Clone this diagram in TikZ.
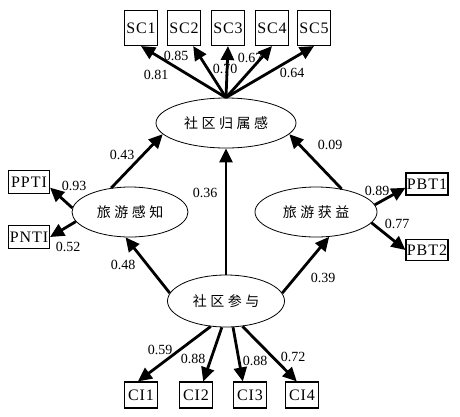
\documentclass[tikz,border=0pt]{standalone}
\usepackage{fontspec}
\setmainfont{Liberation Serif}
\newfontfamily\cjk[LetterSpace=25]{Noto Sans CJK SC}
\newfontfamily\boxfont[LetterSpace=6]{Liberation Serif}
\usetikzlibrary{arrows.meta,shapes.geometric}

\begin{document}
\begin{tikzpicture}[x=1pt,y=-1pt,
    latent/.style={ellipse,draw,line width=0.8pt,inner sep=0pt,
        font=\cjk\fontsize{14}{14}\selectfont},
    obs/.style={rectangle,draw,line width=1.1pt,inner sep=0pt,
        font=\boxfont\fontsize{16}{16}\selectfont},
    path/.style={line width=2.8pt,-{Triangle[length=14pt,width=13pt]}},
    coef/.style={inner sep=0pt,font=\fontsize{14}{14}\selectfont}]
    \useasboundingbox (0,0) rectangle (460,416);
    % latent variables
    \node[latent,minimum width=140pt,minimum height=50pt] (sg) at (226,123) {社区归属感};
    \node[latent,minimum width=116pt,minimum height=50pt] (tp) at (130,212) {旅游感知};
    \node[latent,minimum width=122pt,minimum height=50pt] (tb) at (316,212) {旅游获益};
    \node[latent,minimum width=117pt,minimum height=52pt] (sp) at (226,301) {社区参与};
    % observed indicators
    \foreach \i/\x in {1/141,2/184,3/228,4/272,5/314}
        \node[obs,minimum width=33pt,minimum height=35pt] (sc\i) at (\x,28) {SC\i};
    \node[obs,minimum width=41pt,minimum height=23pt] (ppti) at (29,182) {PPTI};
    \node[obs,minimum width=41pt,minimum height=23pt] (pnti) at (29,237) {PNTI};
    \node[obs,minimum width=42pt,minimum height=22pt] (pbt1) at (427,184) {PBT1};
    \node[obs,minimum width=42pt,minimum height=21pt] (pbt2) at (427,250) {PBT2};
    \foreach \i/\x in {1/141,2/196,3/250,4/302}
        \node[obs,minimum width=33pt,minimum height=26pt] (ci\i) at (\x,395) {CI\i};
    % loadings of the sense of belonging
    \foreach \t/\a in {sc1/south,sc2/-63,sc3/south,sc4/south,sc5/south}
        \draw[path] (sg.north) -- (\t.\a);
    % structural paths
    \draw[path] (tp.128) -- (sg.190);
    \draw[path] (tb.42) -- (sg.350);
    \draw[path] (sp.north) -- (sg.south);
    \draw[path] (sp.172) -- (tp.260);
    \draw[path] (sp.8) -- (tb.298);
    % side indicators
    \draw[path] (tp.176) -- (ppti.-15);
    \draw[path] (tp.190) -- (pnti.east);
    \draw[path] (tb.7) -- (pbt1.190);
    \draw[path] (tb.-11) -- (pbt2.west);
    % loadings of participation
    \foreach \s/\t/\a in {239/ci1/103,261/ci2/62,285/ci3/118,303/ci4/111}
        \draw[path] (sp.\s) -- (\t.\a);
    % coefficients
    \foreach \n/\x/\y/\v in {a/156/75/0.81,b/176/56/0.85,c/225/69/0.70,d/250/58/0.67,
        e/292/73/0.64,f/122/155/0.43,g/330/145/0.09,h/205/193/0.36,i/123/265/0.48,
        j/323/278/0.39,k/74/186/0.93,l/68/247/0.52,m/377/191/0.89,n/397/224/0.77,
        o/160/350/0.59,p/193/359/0.88,q/255/361/0.88,r/293/357/0.72}
        \node[coef] (w\n) at (\x,\y) {\v};
\end{tikzpicture}
\end{document}
